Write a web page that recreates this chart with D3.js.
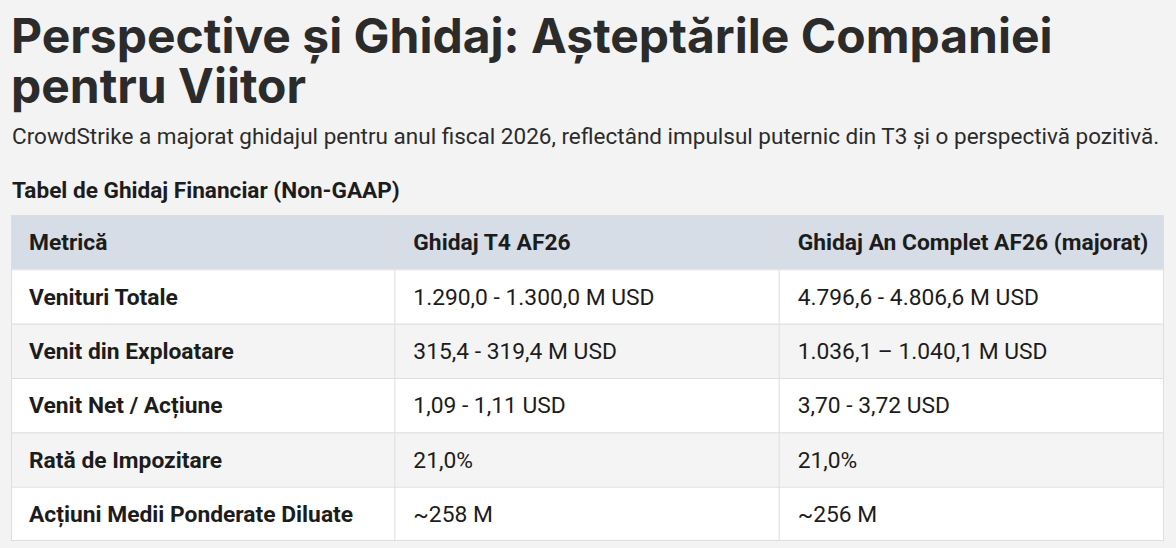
<!DOCTYPE html>
<html>
<head>
<meta charset="utf-8">
<script src="https://cdn.jsdelivr.net/npm/d3@7"></script>
<style>
  body { margin: 0; background: #f3f3f3; }
  svg { display: block; }
  .title { font-family: Inter, Roboto, sans-serif; font-weight: 700; fill: #2b2b2b; }
  .sub { font-family: Roboto, sans-serif; fill: #2b2b2b; }
  .cell { font-family: Roboto, sans-serif; fill: #1c1c1c; }
</style>
</head>
<body>
<div id="chart"></div>
<script>
// table data
var columns = ["Metrică", "Ghidaj T4 AF26", "Ghidaj An Complet AF26 (majorat)"];
var metrics = ["Venituri Totale", "Venit din Exploatare", "Venit Net / Acțiune", "Rată de Impozitare", "Acțiuni Medii Ponderate Diluate"];
var q4Guidance = ["1.290,0 - 1.300,0 M USD", "315,4 - 319,4 M USD", "1,09 - 1,11 USD", "21,0%", "~258 M"];
var fyGuidance = ["4.796,6 - 4.806,6 M USD", "1.036,1 – 1.040,1 M USD", "3,70 - 3,72 USD", "21,0%", "~256 M"];

var titleLines = ["Perspective și Ghidaj: Așteptările Companiei", "pentru Viitor"];
var subtitle = "CrowdStrike a majorat ghidajul pentru anul fiscal 2026, reflectând impulsul puternic din T3 și o perspectivă pozitivă.";
var tableTitle = "Tabel de Ghidaj Financiar (Non-GAAP)";

var W = 1176, H = 548;
var svg = d3.select("#chart").append("svg").attr("width", W).attr("height", H);

svg.append("rect").attr("width", W).attr("height", H).attr("fill", "#f3f3f3");

// heading text, wrapped over two lines
svg.append("text")
    .attr("class", "title")
    .attr("y", 53)
    .style("font-size", "48px")
  .selectAll("tspan").data(titleLines).enter().append("tspan")
    .attr("x", 11)
    .attr("dy", function(d, i) { return i === 0 ? 0 : 50; })
    .text(function(d) { return d; });

svg.append("text").attr("class", "sub")
    .attr("x", 12).attr("y", 144)
    .style("font-size", "22.5px")
    .text(subtitle);

svg.append("text").attr("class", "sub")
    .attr("x", 12).attr("y", 198)
    .style("font-size", "22.6px").style("font-weight", 700).style("fill", "#1c1c1c")
    .text(tableTitle);

// table layout
var rows = [columns].concat(metrics.map(function(m, i) { return [m, q4Guidance[i], fyGuidance[i]]; }));

var xScale = d3.scaleBand().domain(d3.range(columns.length)).range([11, 1164]);
var yScale = d3.scaleBand().domain(d3.range(rows.length)).range([215, 541]);

var table = svg.append("g").attr("class", "table");

var rowG = table.selectAll(".row").data(rows).enter().append("g")
    .attr("class", "row")
    .attr("transform", function(d, i) { return "translate(0," + yScale(i) + ")"; });

rowG.append("rect")
    .attr("x", 11)
    .attr("width", 1164 - 11)
    .attr("height", yScale.bandwidth())
    .attr("fill", function(d, i) { return i === 0 ? "#d6dde6" : (i % 2 === 1 ? "#ffffff" : "#f4f4f4"); });

rowG.selectAll("text").data(function(d, i) { return d.map(function(v) { return {v: v, r: i}; }); })
    .enter().append("text")
    .attr("class", "cell")
    .attr("x", function(d, j) { return xScale(j) + 18; })
    .attr("y", yScale.bandwidth() / 2)
    .attr("dy", "0.36em")
    .style("font-size", "22.8px")
    .style("font-weight", function(d, j) { return (d.r === 0 || j === 0) ? 700 : 400; })
    .text(function(d) { return d.v; });

// grid lines
table.selectAll(".hline").data(d3.range(1, rows.length)).enter().append("line")
    .attr("x1", 11).attr("x2", 1164)
    .attr("y1", function(i) { return yScale(i) + 0.5; })
    .attr("y2", function(i) { return yScale(i) + 0.5; })
    .attr("stroke", "#dedede");

table.selectAll(".vline").data(d3.range(1, columns.length)).enter().append("line")
    .attr("x1", function(j) { return xScale(j) - 0.5; })
    .attr("x2", function(j) { return xScale(j) - 0.5; })
    .attr("y1", 215).attr("y2", 541)
    .attr("stroke", "#dedede");

table.append("rect")
    .attr("x", 11.5).attr("y", 215.5)
    .attr("width", 1164 - 12).attr("height", 541 - 216)
    .attr("fill", "none").attr("stroke", "#dedede");
</script>
</body>
</html>
